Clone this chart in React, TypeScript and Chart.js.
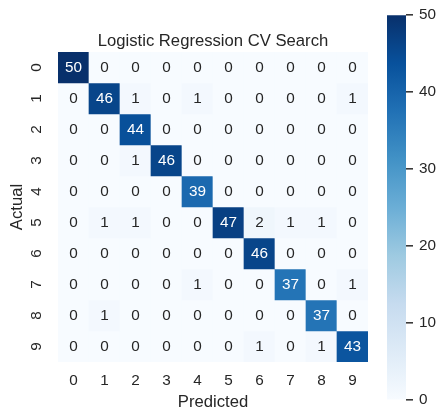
import React, { useEffect, useRef } from 'react';
import { Chart, registerables } from 'chart.js';

Chart.register(...registerables);

// ---- data ----
const chartTitle = 'Logistic Regression CV Search';
const xTitle = 'Predicted';
const yTitle = 'Actual';
const predictedLabels = ['0', '1', '2', '3', '4', '5', '6', '7', '8', '9'];
const actualLabels = ['0', '1', '2', '3', '4', '5', '6', '7', '8', '9'];

const row0 = [50, 0, 0, 0, 0, 0, 0, 0, 0, 0];
const row1 = [0, 46, 1, 0, 1, 0, 0, 0, 0, 1];
const row2 = [0, 0, 44, 0, 0, 0, 0, 0, 0, 0];
const row3 = [0, 0, 1, 46, 0, 0, 0, 0, 0, 0];
const row4 = [0, 0, 0, 0, 39, 0, 0, 0, 0, 0];
const row5 = [0, 1, 1, 0, 0, 47, 2, 1, 1, 0];
const row6 = [0, 0, 0, 0, 0, 0, 46, 0, 0, 0];
const row7 = [0, 0, 0, 0, 1, 0, 0, 37, 0, 1];
const row8 = [0, 1, 0, 0, 0, 0, 0, 0, 37, 0];
const row9 = [0, 0, 0, 0, 0, 0, 1, 0, 1, 43];
const matrix = [row0, row1, row2, row3, row4, row5, row6, row7, row8, row9];

const colorbarTicks = [0, 10, 20, 30, 40, 50];
const vmin = 0;
const vmax = 50;

// ---- style ----
const FONT = '"Liberation Sans", Arial, sans-serif';
const TEXT = '#262626';
const TICK_SIZE = 15.3;
const LABEL_SIZE = 16.67;
const BLUES = ['#f7fbff', '#deebf7', '#c6dbef', '#9ecae1', '#6baed6', '#4292c6', '#2171b5', '#08519c', '#08306b'];

function hexToRgb(h: string) {
  const n = parseInt(h.slice(1), 16);
  return [(n >> 16) & 255, (n >> 8) & 255, n & 255];
}
const BLUES_RGB = BLUES.map(hexToRgb);

function blues(t: number): number[] {
  const tt = Math.max(0, Math.min(1, t));
  const pos = tt * (BLUES_RGB.length - 1);
  const i = Math.min(Math.floor(pos), BLUES_RGB.length - 2);
  const f = pos - i;
  const a = BLUES_RGB[i];
  const b = BLUES_RGB[i + 1];
  return [0, 1, 2].map((k) => a[k] + (b[k] - a[k]) * f);
}
function rgbStr(c: number[]) {
  return `rgb(${Math.round(c[0])},${Math.round(c[1])},${Math.round(c[2])})`;
}
function norm(v: number) {
  return (v - vmin) / (vmax - vmin);
}
function luminance(c: number[]) {
  const lin = c.map((x) => {
    const s = x / 255;
    return s <= 0.03928 ? s / 12.92 : Math.pow((s + 0.055) / 1.055, 2.4);
  });
  return 0.2126 * lin[0] + 0.7152 * lin[1] + 0.0722 * lin[2];
}
function textColor(v: number) {
  return luminance(blues(norm(v))) > 0.408 ? TEXT : '#ffffff';
}

const annotatePlugin = {
  id: 'annotate',
  afterDatasetsDraw(chart: any) {
    const ctx = chart.ctx;
    ctx.save();
    ctx.font = `${TICK_SIZE}px ${FONT}`;
    ctx.textAlign = 'center';
    ctx.textBaseline = 'middle';
    matrix.forEach((row, r) => {
      const meta = chart.getDatasetMeta(r);
      meta.data.forEach((el: any, c: number) => {
        const { x, y, base } = el.getProps(['x', 'y', 'base'], true);
        const v = row[c];
        ctx.fillStyle = textColor(v);
        ctx.fillText(String(v), x, (y + base) / 2);
      });
    });
    ctx.restore();
  },
};

export default function App() {
  const mainRef = useRef<HTMLCanvasElement>(null);
  const barRef = useRef<HTMLCanvasElement>(null);

  useEffect(() => {
    const datasets = matrix.map((row, r) => ({
      label: actualLabels[r],
      data: row.map(() => [r, r + 1]),
      backgroundColor: row.map((v) => rgbStr(blues(norm(v)))),
      borderWidth: 0,
      barPercentage: 1,
      categoryPercentage: 1,
      grouped: false,
    }));

    const main = new Chart(mainRef.current as HTMLCanvasElement, {
      type: 'bar',
      data: { labels: predictedLabels, datasets: datasets as any },
      plugins: [annotatePlugin],
      options: {
        animation: false,
        responsive: false,
        layout: { padding: { top: 0, left: 0, right: 12, bottom: 0 } },
        plugins: {
          legend: { display: false },
          tooltip: { enabled: false },
          title: {
            display: true,
            fullSize: false,
            text: chartTitle,
            color: TEXT,
            font: { family: FONT, size: LABEL_SIZE, weight: 'normal' },
            padding: { top: 31, bottom: 1 },
          },
        },
        scales: {
          x: {
            type: 'category',
            grid: { display: false, drawTicks: false },
            border: { display: false },
            ticks: { color: TEXT, font: { family: FONT, size: TICK_SIZE }, padding: 10, autoSkip: false, maxRotation: 0 },
            title: {
              display: true,
              text: xTitle,
              color: TEXT,
              font: { family: FONT, size: LABEL_SIZE },
              padding: { top: 0, bottom: 8 },
            },
            afterFit: (s: any) => {
              s.height = 58;
            },
          },
          y: {
            type: 'linear',
            min: 0,
            max: actualLabels.length,
            reverse: true,
            afterBuildTicks: (s: any) => {
              s.ticks = actualLabels.map((_, i) => ({ value: i + 0.5 }));
            },
            grid: { display: false, drawTicks: false },
            border: { display: false },
            ticks: {
              color: TEXT,
              font: { family: FONT, size: TICK_SIZE },
              autoSkip: false,
              minRotation: 90,
              maxRotation: 90,
              crossAlign: 'center',
              padding: 17,
              callback: (v: any) => actualLabels[Math.floor(Number(v))],
            },
            title: {
              display: true,
              text: yTitle,
              color: TEXT,
              font: { family: FONT, size: LABEL_SIZE },
              padding: { top: 7, bottom: 0 },
            },
            afterFit: (s: any) => {
              s.width = 58;
            },
          },
        },
      } as any,
    });

    const cbar = new Chart(barRef.current as HTMLCanvasElement, {
      type: 'bar',
      data: {
        labels: [''],
        datasets: [
          {
            data: [[vmin, vmax]] as any,
            backgroundColor: (ctx: any) => {
              const chart = ctx.chart;
              const ys = chart.scales && chart.scales.y;
              if (!ys) return BLUES[0];
              const p0 = ys.getPixelForValue(vmin);
              const p1 = ys.getPixelForValue(vmax);
              if (!Number.isFinite(p0) || !Number.isFinite(p1) || p0 === p1) return BLUES[0];
              const g = chart.ctx.createLinearGradient(0, p0, 0, p1);
              BLUES.forEach((c, i) => g.addColorStop(i / (BLUES.length - 1), c));
              return g;
            },
            borderWidth: 0,
            barPercentage: 1,
            categoryPercentage: 1,
          },
        ],
      },
      options: {
        animation: false,
        responsive: false,
        layout: { padding: { left: 7, top: 15, bottom: 20, right: 0 } },
        plugins: { legend: { display: false }, tooltip: { enabled: false } },
        scales: {
          x: { display: false },
          y: {
            position: 'right',
            min: vmin,
            max: vmax,
            afterBuildTicks: (s: any) => {
              s.ticks = colorbarTicks.map((v) => ({ value: v }));
            },
            ticks: { color: TEXT, font: { family: FONT, size: TICK_SIZE }, padding: 6 },
            grid: { display: true, drawOnChartArea: false, drawTicks: true, tickLength: 7, color: '#3a3a3a', lineWidth: 1.6 },
            border: { display: false },
            afterFit: (s: any) => {
              s.width = 40;
            },
          },
        },
      } as any,
    });

    return () => {
      main.destroy();
      cbar.destroy();
    };
  }, []);

  return (
    <div style={{ position: 'fixed', left: 0, top: 0, width: 446, height: 420, background: '#ffffff' }}>
      <canvas ref={mainRef} width={380} height={420} style={{ position: 'absolute', left: 0, top: 0, display: 'block' }} />
      <canvas ref={barRef} width={66} height={420} style={{ position: 'absolute', left: 380, top: 0, display: 'block' }} />
    </div>
  );
}
